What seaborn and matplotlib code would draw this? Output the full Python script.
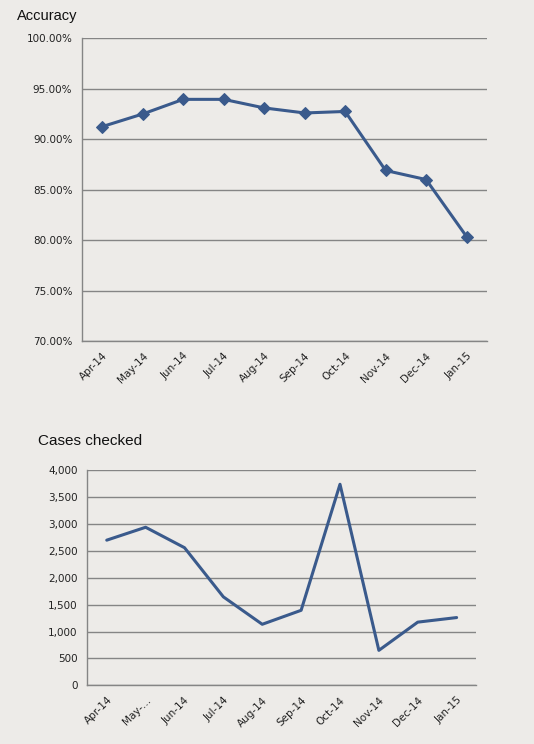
import matplotlib
matplotlib.use('Agg')
import matplotlib.pyplot as plt
from matplotlib.ticker import PercentFormatter, FuncFormatter, FixedLocator
import seaborn as sns
import pandas as pd

months = ["Apr-14", "May-14", "Jun-14", "Jul-14", "Aug-14",
          "Sep-14", "Oct-14", "Nov-14", "Dec-14", "Jan-15"]
month_labels_2 = ["Apr-14", "May-...", "Jun-14", "Jul-14", "Aug-14",
                  "Sep-14", "Oct-14", "Nov-14", "Dec-14", "Jan-15"]
accuracy = [91.25, 92.5, 93.95, 93.95, 93.1, 92.6, 92.75, 86.9, 86.0, 80.35]
cases = [2700, 2940, 2560, 1645, 1135, 1395, 3740, 650, 1175, 1260]

bg = "#edebe8"
line_col = "#3a5a8c"
grid_col = "#858585"

sns.set_theme(style="white")
plt.rcParams['font.family'] = ['DejaVu Sans']

fig = plt.figure(figsize=(5.34, 7.44), dpi=100)
fig.patch.set_facecolor(bg)

df1 = pd.DataFrame({"month": months, "acc": accuracy})
df2 = pd.DataFrame({"month": months, "cases": cases})


def style_axis(ax, labels):
    ax.set_facecolor(bg)
    ax.set_xlim(-0.5, len(labels) - 0.5)
    ax.xaxis.set_major_locator(FixedLocator(range(len(labels))))
    ax.set_xticklabels(labels, rotation=45, ha='right', rotation_mode='anchor',
                       fontsize=7.5, color="#222222")
    ax.xaxis.set_minor_locator(FixedLocator([i - 0.5 for i in range(len(labels) + 1)]))
    ax.tick_params(axis='x', which='major', length=0, pad=7)
    ax.tick_params(axis='x', which='minor', length=5, width=1, color=grid_col, direction='out')
    ax.tick_params(axis='y', length=5, width=1, color=grid_col, direction='out',
                   labelsize=7.5, labelcolor="#222222", pad=2)
    ax.yaxis.grid(True, color=grid_col, linewidth=1)
    ax.xaxis.grid(False)
    ax.set_axisbelow(True)
    for s in ['top', 'right']:
        ax.spines[s].set_visible(False)
    for s in ['left', 'bottom']:
        ax.spines[s].set_color(grid_col)
        ax.spines[s].set_linewidth(1)
    ax.set_xlabel("")
    ax.set_ylabel("")


ax1 = fig.add_axes([0.1536, 0.5417, 0.758, 0.4068])
sns.lineplot(data=df1, x="month", y="acc", ax=ax1, color=line_col, linewidth=2.2,
             marker='D', markersize=6, markeredgecolor=line_col, sort=False)
ax1.set_ylim(70, 100)
ax1.set_yticks([70, 75, 80, 85, 90, 95, 100])
ax1.yaxis.set_major_formatter(PercentFormatter(xmax=100, decimals=2))
style_axis(ax1, months)

ax2 = fig.add_axes([0.1635, 0.0789, 0.728, 0.289])
sns.lineplot(data=df2, x="month", y="cases", ax=ax2, color=line_col, linewidth=2.2, sort=False)
ax2.set_ylim(0, 4000)
ax2.set_yticks(range(0, 4001, 500))
ax2.yaxis.set_major_formatter(FuncFormatter(lambda v, p: f"{v:,.0f}"))
style_axis(ax2, month_labels_2)

fig.text(0.032, 0.978, "Accuracy", fontsize=10.5, color="#111111", va='center',
         family=['Liberation Sans', 'DejaVu Sans'])
fig.text(0.071, 0.407, "Cases checked", fontsize=11, color="#111111", va='center',
         family=['Liberation Sans', 'DejaVu Sans'])

fig.savefig("out.png", dpi=100, facecolor=bg)
